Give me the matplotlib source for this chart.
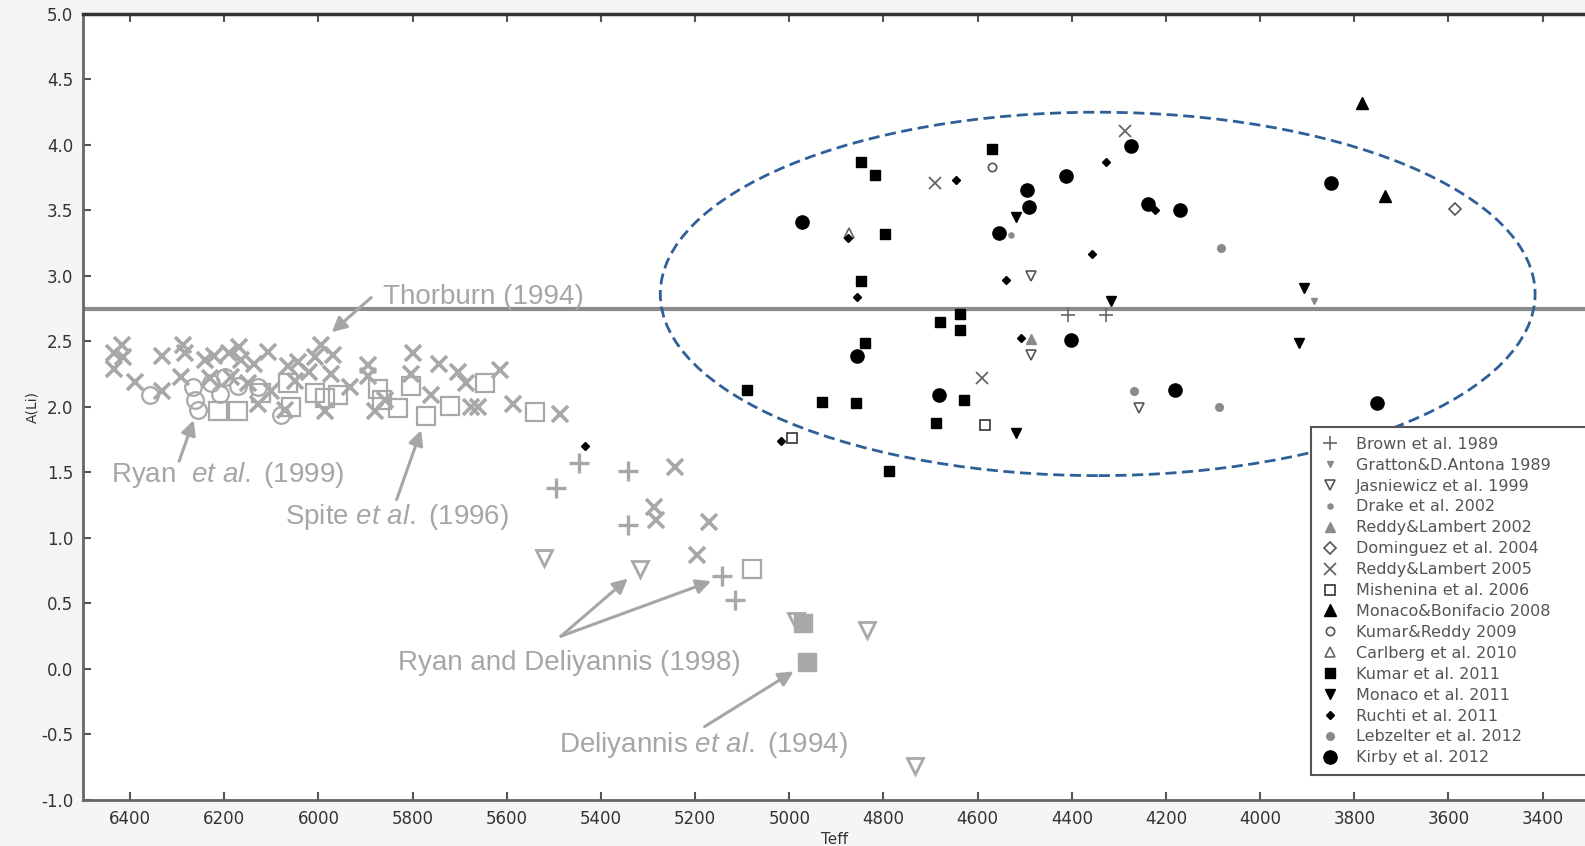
import matplotlib
matplotlib.use("Agg")
import matplotlib.pyplot as plt
from matplotlib.patches import Ellipse

plt.rcParams['font.family'] = ['DejaVu Sans']
plt.rcParams['mathtext.fontset'] = 'custom'
plt.rcParams['mathtext.it'] = 'Liberation Sans:italic'
plt.rcParams['mathtext.rm'] = 'Liberation Sans'

# ---------------- data: main compilation (Teff, A(Li)) ----------------
brown_1989_t = [4409, 4328]
brown_1989_a = [2.70, 2.70]
gratton_1989_t = [3885]
gratton_1989_a = [2.81]
jasniewicz_1999_t = [4486, 4486, 4257]
jasniewicz_1999_a = [3.00, 2.40, 1.99]
drake_2002_t = [4530]
drake_2002_a = [3.31]
reddy_2002_t = [4486]
reddy_2002_a = [2.52]
dominguez_2004_t = [3586]
dominguez_2004_a = [3.51]
reddy_2005_t = [4690, 4590, 4288]
reddy_2005_a = [3.71, 2.22, 4.11]
mishenina_2006_t = [4995, 4584]
mishenina_2006_a = [1.76, 1.86]
monaco_bon_2008_t = [3784, 3735]
monaco_bon_2008_a = [4.32, 3.61]
kumar_reddy_2009_t = [4569]
kumar_reddy_2009_a = [3.83]
carlberg_2010_t = [4874]
carlberg_2010_a = [3.33]
kumar_2011_t = [4569, 4848, 4819, 4797, 4848, 4638, 4679, 4638, 4840, 5090, 4931, 4859, 4630, 4689, 4789]
kumar_2011_a = [3.97, 3.87, 3.77, 3.32, 2.96, 2.71, 2.65, 2.59, 2.49, 2.13, 2.04, 2.03, 2.05, 1.88, 1.51]
monaco_2011_t = [4518, 4317, 3906, 3918, 4518]
monaco_2011_a = [3.45, 2.81, 2.91, 2.49, 1.80]
ruchti_2011_t = [4645, 4876, 4857, 4539, 4508, 4358, 4328, 4224, 5018, 5433]
ruchti_2011_a = [3.73, 3.29, 2.84, 2.97, 2.53, 3.17, 3.87, 3.50, 1.74, 1.70]
lebzelter_2012_t = [4083, 4267, 4087]
lebzelter_2012_a = [3.21, 2.12, 2.00]
kirby_2012_t = [4974, 4857, 4681, 4554, 4496, 4490, 4412, 4401, 4274, 4238, 4170, 3850, 4181, 3752]
kirby_2012_a = [3.41, 2.39, 2.09, 3.33, 3.66, 3.53, 3.76, 2.51, 3.99, 3.55, 3.50, 3.71, 2.13, 2.03]

# ---------------- data: grey background (dwarf / metal-poor) samples ----------------
bg_x_t = [6417, 6434, 6415, 6434, 6390, 6332, 6332, 6288, 6284, 6242, 6221, 6189, 6168, 6164,
          6136, 6107, 6065, 6044, 6008, 5994, 5970, 5973, 5987, 6072, 6129, 6291, 6185, 6100,
          6050, 6020, 6230, 6150, 5799, 5895, 5895, 5803, 5743, 5704, 5615, 5686, 5934, 5760,
          5661, 5675, 5587, 5488, 5880, 5859, 5243, 5287, 5283, 5170, 5195]
bg_x_a = [2.47, 2.41, 2.38, 2.29, 2.19, 2.39, 2.12, 2.47, 2.41, 2.36, 2.39, 2.41, 2.46, 2.36,
          2.33, 2.42, 2.31, 2.34, 2.38, 2.47, 2.40, 2.25, 1.97, 1.98, 2.02, 2.23, 2.23, 2.12,
          2.20, 2.27, 2.22, 2.18, 2.41, 2.32, 2.24, 2.25, 2.33, 2.27, 2.28, 2.18, 2.15, 2.09,
          2.00, 2.00, 2.02, 1.95, 1.97, 2.05, 1.54, 1.24, 1.14, 1.12, 0.87]
bg_circ_t = [6358, 6263, 6266, 6228, 6199, 6171, 6256, 6079, 6129, 6210]
bg_circ_a = [2.09, 2.05, 2.15, 2.18, 2.23, 2.16, 1.98, 1.94, 2.15, 2.10]
bg_sq_t = [6213, 6171, 6122, 6065, 6058, 6008, 5987, 5959, 5873, 5803, 5647, 5831, 5771, 5721,
           5541, 5866, 5080]
bg_sq_a = [1.97, 1.97, 2.11, 2.18, 2.00, 2.11, 2.07, 2.09, 2.14, 2.16, 2.18, 1.99, 1.93, 2.01,
           1.96, 2.05, 0.76]
bg_plus_t = [5446, 5495, 5343, 5343, 5142, 5116]
bg_plus_a = [1.57, 1.38, 1.51, 1.10, 0.71, 0.53]
bg_tri_t = [5521, 5318, 4985, 4835, 4733]
bg_tri_a = [0.85, 0.76, 0.37, 0.30, -0.74]
bg_fsq_t = [4970, 4962]
bg_fsq_a = [0.35, 0.05]

thorburn_level = 2.75

# ---------------- figure ----------------
fig = plt.figure(figsize=(15.85, 8.46), dpi=100, facecolor='#f5f5f5')
ax = fig.add_axes([0.0524, 0.0544, 0.9476, 0.9291])
ax.set_facecolor('white')

G = '#a8a8a8'
# background grey samples
ax.plot(bg_x_t, bg_x_a, ls='none', marker='x', ms=11, mew=2.6, color=G, label='_nolegend_')
ax.plot(bg_circ_t, bg_circ_a, ls='none', marker='o', ms=12, mew=1.6, mfc='none', mec=G, label='_nolegend_')
ax.plot(bg_sq_t, bg_sq_a, ls='none', marker='s', ms=13, mew=1.6, mfc='none', mec=G, label='_nolegend_')
ax.plot(bg_plus_t, bg_plus_a, ls='none', marker='+', ms=14, mew=2.4, color=G, label='_nolegend_')
ax.plot(bg_tri_t, bg_tri_a, ls='none', marker='v', ms=12, mew=2.0, mfc='none', mec=G, label='_nolegend_')
ax.plot(bg_fsq_t, bg_fsq_a, ls='none', marker='s', ms=13, color=G, label='_nolegend_')

ax.axhline(thorburn_level, color='#8c8c8c', lw=3, zorder=2)

# main compilation
ax.plot(brown_1989_t, brown_1989_a, ls='none', marker='+', ms=10, mew=1.2, color='#666666', label='Brown et al. 1989')
ax.plot(gratton_1989_t, gratton_1989_a, ls='none', marker='v', ms=5, color='#8a8a8a', label='Gratton&D.Antona 1989')
ax.plot(jasniewicz_1999_t, jasniewicz_1999_a, ls='none', marker='v', ms=7, mew=1.2, mfc='none', mec='#555555', label='Jasniewicz et al. 1999')
ax.plot(drake_2002_t, drake_2002_a, ls='none', marker='h', ms=4, color='#8a8a8a', label='Drake et al. 2002')
ax.plot(reddy_2002_t, reddy_2002_a, ls='none', marker='^', ms=7, color='#8a8a8a', label='Reddy&Lambert 2002')
ax.plot(dominguez_2004_t, dominguez_2004_a, ls='none', marker='D', ms=6, mew=1.2, mfc='none', mec='#555555', label='Dominguez et al. 2004')
ax.plot(reddy_2005_t, reddy_2005_a, ls='none', marker='x', ms=9, mew=1.3, color='#666666', label='Reddy&Lambert 2005')
ax.plot(mishenina_2006_t, mishenina_2006_a, ls='none', marker='s', ms=7, mew=1.2, mfc='none', mec='#333333', label='Mishenina et al. 2006')
ax.plot(monaco_bon_2008_t, monaco_bon_2008_a, ls='none', marker='^', ms=9, color='black', label='Monaco&Bonifacio 2008')
ax.plot(kumar_reddy_2009_t, kumar_reddy_2009_a, ls='none', marker='o', ms=6, mew=1.2, mfc='none', mec='#555555', label='Kumar&Reddy 2009')
ax.plot(carlberg_2010_t, carlberg_2010_a, ls='none', marker='^', ms=7, mew=1.2, mfc='none', mec='#666666', label='Carlberg et al. 2010')
ax.plot(kumar_2011_t, kumar_2011_a, ls='none', marker='s', ms=6.5, color='black', label='Kumar et al. 2011')
ax.plot(monaco_2011_t, monaco_2011_a, ls='none', marker='v', ms=7, color='black', label='Monaco et al. 2011')
ax.plot(ruchti_2011_t, ruchti_2011_a, ls='none', marker='D', ms=4.5, color='black', label='Ruchti et al. 2011')
ax.plot(lebzelter_2012_t, lebzelter_2012_a, ls='none', marker='o', ms=5.5, color='#8a8a8a', label='Lebzelter et al. 2012')
ax.plot(kirby_2012_t, kirby_2012_a, ls='none', marker='o', ms=9.5, color='black', label='Kirby et al. 2012')

# dashed ellipse
ax.add_patch(Ellipse((4345, 2.863), 1858, 2.774, fill=False, ec='#2f5f98', lw=2.0,
                     ls=(0, (4, 2)), zorder=5))

# annotations
TC = '#a6a6a6'
fs = 20
apr = dict(arrowstyle='-|>', color=TC, lw=2.2, mutation_scale=22, shrinkA=0, shrinkB=0)
ax.text(5863, 2.84, 'Thorburn (1994)', color=TC, fontsize=fs, family='Liberation Sans', va='center', ha='left')
ax.annotate('', xy=(5972, 2.57), xytext=(5888, 2.835), arrowprops=apr)
ax.text(6441, 1.48, r'Ryan  $\mathit{et\ al.}$ (1999)', color=TC, fontsize=fs, family='Liberation Sans', va='center', ha='left')
ax.annotate('', xy=(6265, 1.90), xytext=(6296, 1.586), arrowprops=apr)
ax.text(6072, 1.16, r'Spite $\mathit{et\ al.}$ (1996)', color=TC, fontsize=fs, family='Liberation Sans', va='center', ha='left')
ax.annotate('', xy=(5782, 1.823), xytext=(5834, 1.293), arrowprops=apr)
ax.text(5832, 0.046, 'Ryan and Deliyannis (1998)', color=TC, fontsize=fs, family='Liberation Sans', va='center', ha='left')
ax.annotate('', xy=(5343, 0.69), xytext=(5485, 0.25), arrowprops=apr)
ax.annotate('', xy=(5166, 0.67), xytext=(5485, 0.25), arrowprops=apr)
ax.text(5489, -0.58, r'Deliyannis $\mathit{et\ al.}$ (1994)', color=TC, fontsize=fs, family='Liberation Sans', va='center', ha='left')
ax.annotate('', xy=(4991, -0.019), xytext=(5180, -0.44), arrowprops=apr)

# axes
ax.set_xlim(6500, 3310)
ax.set_ylim(-1.0, 5.0)
ax.set_xticks([6400, 6200, 6000, 5800, 5600, 5400, 5200, 5000, 4800, 4600, 4400, 4200, 4000, 3800, 3600, 3400])
ax.set_yticks([-1.0, -0.5, 0.0, 0.5, 1.0, 1.5, 2.0, 2.5, 3.0, 3.5, 4.0, 4.5, 5.0])
ax.set_yticklabels(['-1.0', '-0.5', '0.0', '0.5', '1.0', '1.5', '2.0', '2.5', '3.0', '3.5', '4.0', '4.5', '5.0'])
ax.tick_params(axis='both', direction='in', length=6, width=1.5, color='#555555',
               labelsize=12, labelcolor='#333333', pad=7)
ax.tick_params(axis='x', top=True)
for s in ['left', 'bottom']:
    ax.spines[s].set_color('#666666')
    ax.spines[s].set_linewidth(2)
ax.spines['top'].set_color('#333333')
ax.spines['top'].set_linewidth(2.5)
ax.spines['right'].set_visible(False)
ax.set_xlabel('Teff', fontsize=11, color='#333333', labelpad=3)
ax.set_ylabel('A(Li)', fontsize=10, color='#333333', labelpad=1)

leg = ax.legend(loc='lower left', bbox_to_anchor=(0.8176, 0.0318, 0.19, 0.44), mode='expand',
                fontsize=11.5, ncol=1,
                frameon=True, fancybox=False, edgecolor='#555555', framealpha=1,
                labelspacing=0.37, handletextpad=1.0, borderpad=0.6, handlelength=1.2,
                borderaxespad=0)
leg.get_frame().set_linewidth(1.5)
for t in leg.get_texts():
    t.set_color('#555555')

fig.savefig('out.png', dpi=100, facecolor=fig.get_facecolor())
